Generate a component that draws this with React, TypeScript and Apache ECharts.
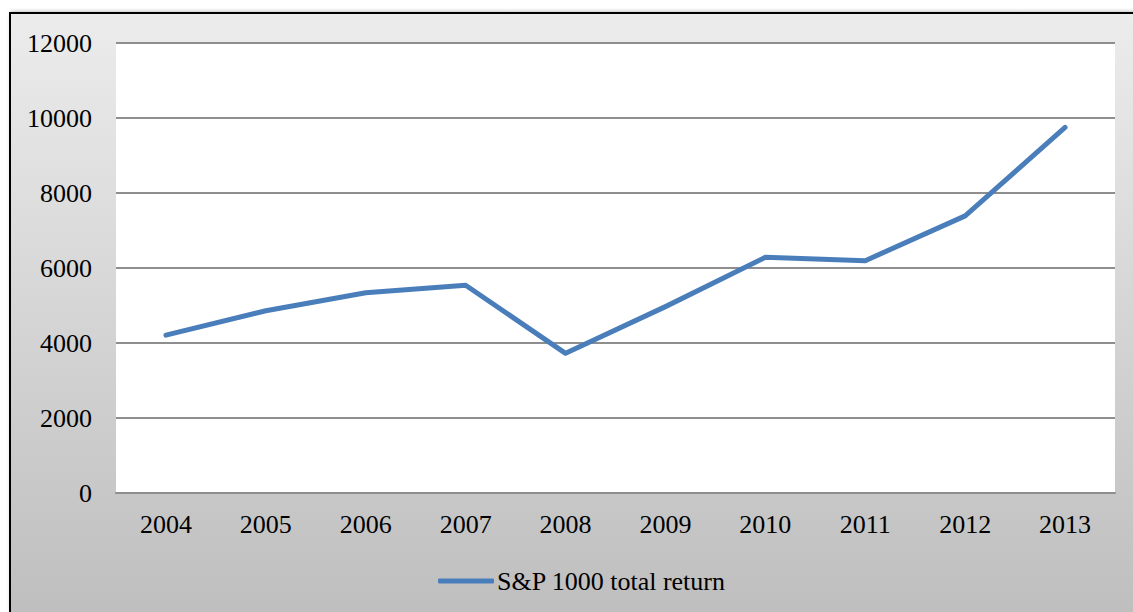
import React, { useEffect, useRef } from "react";
import * as echarts from "echarts";

const years = ["2004", "2005", "2006", "2007", "2008", "2009", "2010", "2011", "2012", "2013"];
const totalReturn = [4210, 4860, 5340, 5540, 3725, 4970, 6285, 6195, 7390, 9750];
const seriesName = "S&P 1000 total return";

export default function App() {
  const ref = useRef<HTMLDivElement>(null);
  useEffect(() => {
    if (!ref.current) return;
    const chart = echarts.init(ref.current, null, { renderer: "svg" });
    const font = "'Liberation Serif', 'Times New Roman', serif";
    chart.setOption({
      animation: false,
      backgroundColor: "#ffffff",
      graphic: [
        {
          type: "rect",
          z: -10,
          silent: true,
          shape: { x: 10, y: 13, width: 1140, height: 620 },
          style: {
            fill: new echarts.graphic.LinearGradient(0, 0, 0, 1, [
              { offset: 0, color: "#ececec" },
              { offset: 1, color: "#bdbdbd" },
            ]),
            stroke: "#000000",
            lineWidth: 2,
            shadowColor: "rgba(0,0,0,0.35)",
            shadowBlur: 4,
            shadowOffsetX: 2,
          },
        },
      ],
      grid: {
        left: 116,
        right: 18,
        top: 43,
        bottom: 119,
        show: true,
        backgroundColor: "#ffffff",
        borderWidth: 0,
      },
      legend: {
        data: [{ name: seriesName, icon: "roundRect" }],
        left: 433,
        top: 563,
        itemWidth: 56,
        itemHeight: 5,
        itemGap: 4,
        itemStyle: { color: "#4a7ebb" },
        textStyle: { fontFamily: font, fontSize: 26, color: "#000", padding: [0, 0, 0, -2] },
      },
      xAxis: {
        type: "category",
        data: years,
        boundaryGap: true,
        axisLine: { show: true, lineStyle: { color: "#8e8e8e", width: 2 } },
        axisTick: { show: false },
        axisLabel: { fontFamily: font, fontSize: 26, color: "#000", margin: 18, interval: 0 },
      },
      yAxis: {
        type: "value",
        min: 0,
        max: 12000,
        interval: 2000,
        axisLine: { show: false },
        axisTick: { show: false },
        axisLabel: {
          fontFamily: font,
          fontSize: 26,
          color: "#000",
          margin: 24,
          formatter: (v: number) => String(v),
        },
        splitLine: { lineStyle: { color: "#8e8e8e", width: 2 } },
      },
      series: [
        {
          name: seriesName,
          type: "line",
          data: totalReturn,
          symbol: "none",
          lineStyle: { color: "#4a7ebb", width: 5, cap: "round", join: "round" },
          itemStyle: { color: "#4a7ebb" },
        },
      ],
    });
    return () => chart.dispose();
  }, []);
  return (
    <div
      ref={ref}
      style={{ position: "absolute", left: 0, top: 0, width: 1133, height: 612 }}
    />
  );
}
